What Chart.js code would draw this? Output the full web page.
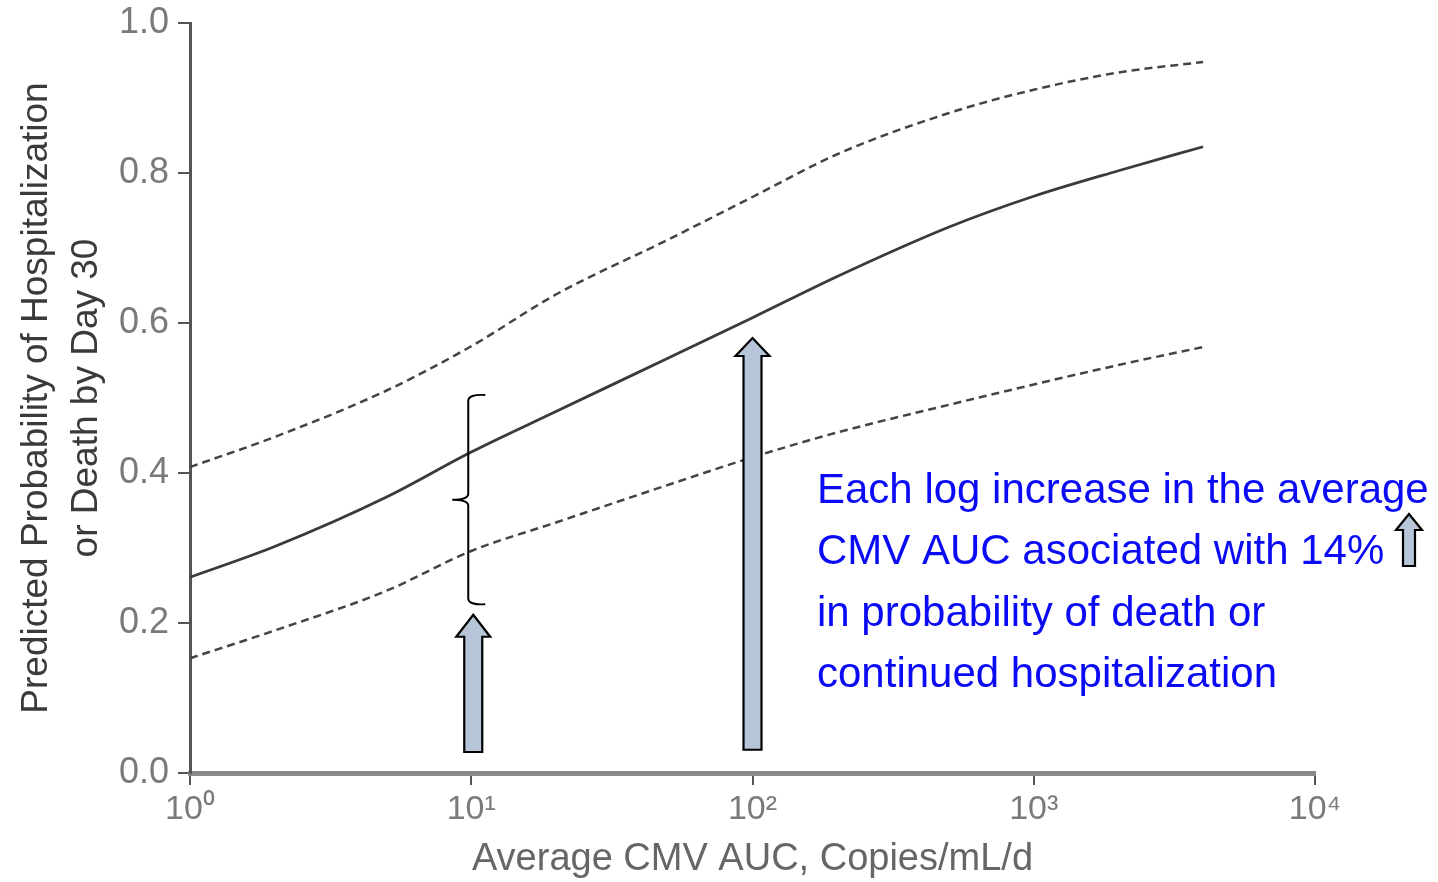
<!DOCTYPE html>
<html>
<head>
<meta charset="utf-8">
<script src="https://cdn.jsdelivr.net/npm/chart.js@4.4.1/dist/chart.umd.min.js"></script>
<style>
  html, body { margin: 0; padding: 0; background: #ffffff; }
  #wrap { position: relative; width: 1438px; height: 882px; }
</style>
</head>
<body>
<div id="wrap"><canvas id="c"></canvas></div>
<script>
// ---- data ----
const cmvAuc = [1, 2, 5, 10, 20, 50, 100, 200, 500, 1000, 2000, 4000];
const upperCI = [0.408, 0.448, 0.510, 0.569, 0.638, 0.711, 0.768, 0.825, 0.880, 0.911, 0.934, 0.948];
const predicted = [0.261, 0.302, 0.368, 0.428, 0.482, 0.553, 0.607, 0.662, 0.728, 0.769, 0.803, 0.835];
const lowerCI = [0.153, 0.190, 0.243, 0.296, 0.334, 0.384, 0.421, 0.454, 0.491, 0.518, 0.544, 0.568];

const xTickValues = [1, 10, 100, 1000, 10000];
const xTickLabels = ['10\u2070', '10\u00B9', '10\u00B2', '10\u00B3', '10\u2074'];
const yTickValues = [0, 0.2, 0.4, 0.6, 0.8, 1.0];

const xAxisTitle = 'Average CMV AUC, Copies/mL/d';
const yAxisTitle = ['Predicted Probability of Hospitalization', 'or Death by Day 30'];

const annotationLines = [
  'Each log increase in the average',
  'CMV AUC asociated with 14%',
  'in probability of death or',
  'continued hospitalization'
];
// arrows: x value, tip value, base value
const arrowX = [10, 100];
const arrowTop = [0.211, 0.580];
const arrowBase = [0.028, 0.031];
// brace spanning the interval at x = 10
const braceX = 10;
const braceTop = 0.504;
const braceBottom = 0.225;

const pts = (ys) => cmvAuc.map((x, i) => ({ x: x, y: ys[i] }));

const FONT = "'Liberation Sans', Arial, sans-serif";

const annotPlugin = {
  id: 'annot',
  afterDatasetsDraw(chart) {
    const ctx = chart.ctx;
    const xs = chart.scales.x, ys = chart.scales.y;
    function arrow(cx, tip, base, shaftW, headW, headH) {
      ctx.beginPath();
      ctx.moveTo(cx, tip);
      ctx.lineTo(cx + headW / 2, tip + headH);
      ctx.lineTo(cx + shaftW / 2, tip + headH);
      ctx.lineTo(cx + shaftW / 2, base);
      ctx.lineTo(cx - shaftW / 2, base);
      ctx.lineTo(cx - shaftW / 2, tip + headH);
      ctx.lineTo(cx - headW / 2, tip + headH);
      ctx.closePath();
      ctx.fillStyle = '#b7c5d8';
      ctx.fill();
      ctx.lineWidth = 2.2;
      ctx.strokeStyle = '#000';
      ctx.lineJoin = 'miter';
      ctx.stroke();
    }
    ctx.save();
    arrow(xs.getPixelForValue(arrowX[0]) + 2, ys.getPixelForValue(arrowTop[0]), ys.getPixelForValue(arrowBase[0]), 18, 34, 22);
    arrow(xs.getPixelForValue(arrowX[1]), ys.getPixelForValue(arrowTop[1]), ys.getPixelForValue(arrowBase[1]), 18, 34, 18);

    // brace
    const bx = xs.getPixelForValue(braceX) - 3;
    const bt = ys.getPixelForValue(braceTop);
    const bb = ys.getPixelForValue(braceBottom);
    const bm = (bt + bb) / 2;
    ctx.beginPath();
    ctx.moveTo(bx + 17, bt);
    ctx.quadraticCurveTo(bx, bt - 1, bx, bt + 6);
    ctx.lineTo(bx, bm - 6);
    ctx.quadraticCurveTo(bx, bm, bx - 16, bm);
    ctx.quadraticCurveTo(bx, bm, bx, bm + 6);
    ctx.lineTo(bx, bb - 6);
    ctx.quadraticCurveTo(bx, bb + 1, bx + 17, bb);
    ctx.lineWidth = 2;
    ctx.strokeStyle = '#000';
    ctx.stroke();

    // annotation text
    ctx.fillStyle = '#0a0af5';
    ctx.font = '42px ' + FONT;
    ctx.textAlign = 'left';
    ctx.textBaseline = 'alphabetic';
    const tx = 817, ty0 = 503, lh = 61.3;
    annotationLines.forEach((t, i) => ctx.fillText(t, tx, ty0 + i * lh));

    // small up arrow after "14%"
    arrow(1409, 514, 566, 12, 26, 16);
    ctx.restore();
  }
};

new Chart(document.getElementById('c'), {
  type: 'line',
  data: {
    datasets: [
      { label: 'Upper 95% CI', data: pts(upperCI), borderColor: '#444', borderWidth: 2.5, borderDash: [8, 5], pointRadius: 0, fill: false, cubicInterpolationMode: 'monotone' },
      { label: 'Predicted', data: pts(predicted), borderColor: '#3a3a3a', borderWidth: 2.8, pointRadius: 0, fill: false, cubicInterpolationMode: 'monotone' },
      { label: 'Lower 95% CI', data: pts(lowerCI), borderColor: '#444', borderWidth: 2.5, borderDash: [8, 5], pointRadius: 0, fill: false, cubicInterpolationMode: 'monotone' }
    ]
  },
  options: {
    responsive: true,
    maintainAspectRatio: false,
    animation: false,
    layout: { padding: { top: 23, right: 123, left: 0, bottom: 0 } },
    plugins: { legend: { display: false }, tooltip: { enabled: false } },
    scales: {
      x: {
        type: 'logarithmic',
        min: 1, max: 10000,
        afterBuildTicks: (s) => { s.ticks = xTickValues.map(v => ({ value: v })); },
        afterFit: (s) => { s.height = 109; s.paddingLeft = 0; s.paddingRight = 0; },
        ticks: {
          autoSkip: false, maxRotation: 0, padding: 4,
          color: '#7a7a7a',
          font: { family: FONT, size: 34 },
          callback: (v) => { const i = xTickValues.indexOf(v); return i >= 0 ? xTickLabels[i] : ''; }
        },
        grid: { display: true, drawOnChartArea: false, drawTicks: true, tickLength: 12, color: '#555', lineWidth: 2 },
        border: { display: true, color: '#8a8a8a', width: 5 },
        title: { display: true, text: xAxisTitle, color: '#666', font: { family: FONT, size: 38 }, padding: { top: 0, bottom: 0 } }
      },
      y: {
        type: 'linear',
        min: 0, max: 1,
        afterBuildTicks: (s) => { s.ticks = yTickValues.map(v => ({ value: v })); },
        afterFit: (s) => { s.width = 190; s.paddingTop = 0; s.paddingBottom = 0; },
        ticks: {
          padding: 9,
          color: '#7a7a7a',
          font: { family: FONT, size: 36 },
          callback: (v) => Number(v).toFixed(1)
        },
        grid: { display: true, drawOnChartArea: false, drawTicks: true, tickLength: 12, color: '#555', lineWidth: 2 },
        border: { display: true, color: '#555', width: 3 },
        title: { display: true, text: yAxisTitle, color: '#3a3a3a', font: { family: FONT, size: 37, lineHeight: 1.35 }, padding: { top: 12, bottom: 0 } }
      }
    }
  },
  plugins: [annotPlugin]
});
</script>
</body>
</html>
